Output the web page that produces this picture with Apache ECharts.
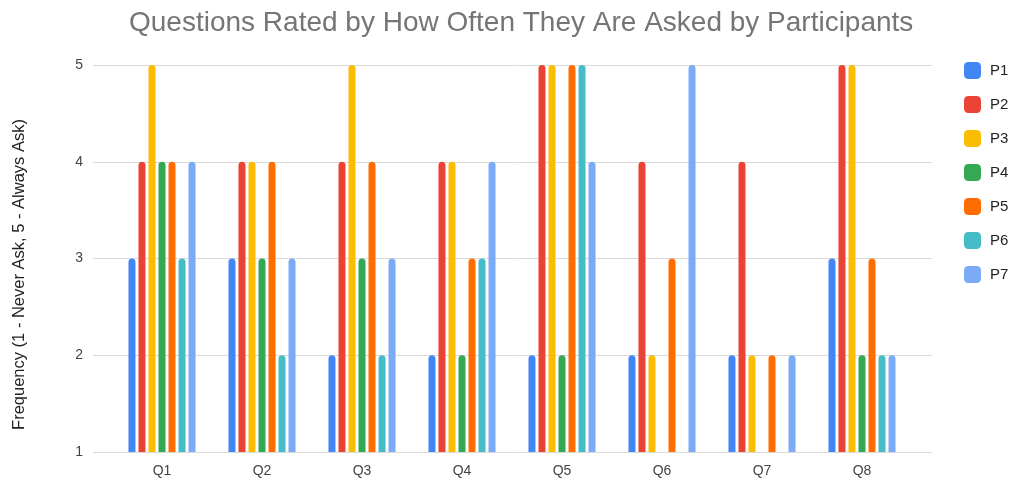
<!DOCTYPE html>
<html>
<head>
<meta charset="utf-8">
<script src="https://cdn.jsdelivr.net/npm/echarts@6/dist/echarts.min.js"></script>
<style>html,body{margin:0;padding:0;background:#fff}#c{width:1010px;height:481px}</style>
</head>
<body>
<div id="c"></div>
<script>
const categories = ['Q1','Q2','Q3','Q4','Q5','Q6','Q7','Q8'];
const seriesNames = ['P1','P2','P3','P4','P5','P6','P7'];
const P1 = [3,3,2,2,2,2,2,3];
const P2 = [4,4,4,4,5,4,4,5];
const P3 = [5,4,5,4,5,2,2,5];
const P4 = [4,3,3,2,2,null,null,2];
const P5 = [4,4,4,3,5,3,2,3];
const P6 = [3,2,2,3,5,null,null,2];
const P7 = [4,3,3,4,4,5,2,2];
const yTicks = [1,2,3,4,5];
const colors = ['#4285F4','#EA4335','#FBBC04','#34A853','#FF6D01','#46BDC6','#7BAAF7'];
const values = [P1,P2,P3,P4,P5,P6,P7];

const chart = echarts.init(document.getElementById('c'), null, {renderer:'canvas'});
const font = 'Liberation Sans, Arial, sans-serif';
chart.setOption({
  animation:false,
  color: colors,
  title:{text:'Questions Rated by How Often They Are Asked by Participants', left:124, top:4,
    textStyle:{color:'#757575', fontSize:28, fontWeight:'normal', fontFamily:font}},
  legend:{orient:'vertical', left:959, top:57, itemWidth:17, itemHeight:17, itemGap:17,
    icon:'roundRect', data:seriesNames,
    textStyle:{color:'#222', fontSize:15, fontFamily:font, padding:[0,0,0,4]}},
  grid:[{left:93, right:78, top:65, bottom:29},
        {left:112, right:98, top:65, bottom:29}],
  xAxis:[
    {gridIndex:0, type:'category', data:categories, show:false},
    {gridIndex:1, type:'category', data:categories,
     axisLine:{show:false}, axisTick:{show:false},
     axisLabel:{color:'#444', fontSize:14, fontFamily:font, margin:12}}
  ],
  yAxis:[
    {gridIndex:0, type:'value', min:yTicks[0], max:yTicks[yTicks.length-1], interval:1,
     name:'Frequency (1 - Never Ask, 5 - Always Ask)', nameLocation:'middle', nameGap:65,
     nameTextStyle:{color:'#222', fontSize:16.5, fontFamily:font, padding:[0,32,0,0]},
     axisLine:{show:false}, axisTick:{show:false},
     axisLabel:{color:'#444', fontSize:14, fontFamily:font, margin:10},
     splitLine:{lineStyle:{color:'#d9d9d9', width:1}}},
    {gridIndex:1, type:'value', min:yTicks[0], max:yTicks[yTicks.length-1], interval:1, show:false,
     splitLine:{show:false}}
  ],
  series: seriesNames.map((n,i)=>({
    name:n, type:'bar', xAxisIndex:1, yAxisIndex:1, data:values[i],
    barWidth:7, barGap:'43%',
    itemStyle:{color:colors[i], borderRadius:[3.5,3.5,0,0]}
  }))
});
</script>
</body>
</html>
